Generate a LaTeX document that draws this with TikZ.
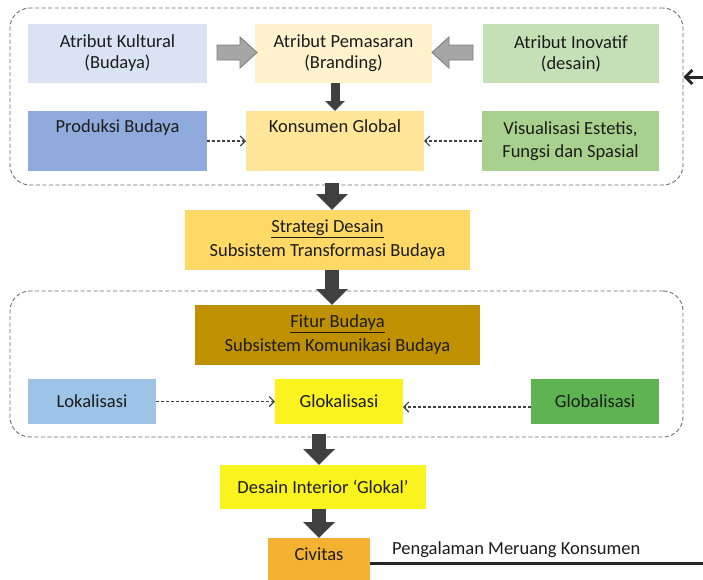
\documentclass[tikz,border=0pt]{standalone}
\usepackage{fontspec}
\setmainfont{Carlito}
\usetikzlibrary{arrows.meta,calc}
\definecolor{txt}{HTML}{1C1C1C}
\definecolor{cKult}{HTML}{DAE3F3}
\definecolor{cPem}{HTML}{FFF2CC}
\definecolor{cInov}{HTML}{C5E0B4}
\definecolor{cProd}{HTML}{8FAADC}
\definecolor{cKons}{HTML}{FFE699}
\definecolor{cVis}{HTML}{A9D18E}
\definecolor{cStrat}{HTML}{FFD966}
\definecolor{cFitur}{HTML}{BF9000}
\definecolor{cLok}{HTML}{9DC3E6}
\definecolor{cGlok}{HTML}{FAF31E}
\definecolor{cGlob}{HTML}{5EB450}
\definecolor{cCiv}{HTML}{F4B233}
\definecolor{darkarrow}{HTML}{404040}
\definecolor{grayfill}{HTML}{A6A6A6}
\definecolor{grayline}{HTML}{7F7F7F}
\definecolor{dashgray}{HTML}{6E6E6E}
\begin{document}
\begin{tikzpicture}[x=1pt,y=-1pt,
  box/.style={inner sep=0pt, outer sep=0pt, text=txt, align=center,
    font=\fontsize{18.5}{21}\selectfont},
  group/.style={draw=dashgray, line width=0.9pt, dash pattern=on 4pt off 2.5pt,
    rounded corners=20pt, inner sep=0pt},
  bigarrow/.style={draw=darkarrow, line width=14pt,
    -{Triangle[width=31pt,length=16pt]}},
  smallarrow/.style={draw=darkarrow, line width=9pt,
    -{Triangle[width=19pt,length=10pt]}},
  grayblk/.style={fill=grayfill, draw=grayline, line width=0.9pt},
  dasharrow/.style={draw=darkarrow, line width=1.1pt, dash pattern=on 3pt off 2pt,
    -{Straight Barb[length=5pt,width=10pt]}},
  retline/.style={draw=black!85, line width=3pt,
    -{Straight Barb[length=7pt,width=14pt,line width=2.8pt]}},
]
\useasboundingbox (0,0) rectangle (703,579);
\clip (0,0) rectangle (703,579);
\fill[white] (0,0) rectangle (703,579);

% dashed groups
\node[group, minimum width=673pt, minimum height=177pt] (grpA) at (346.5,96.5) {};
\node[group, minimum width=673pt, minimum height=146pt] (grpB) at (346.5,364) {};

% upper group
\node[box, fill=cKult, minimum width=179pt, minimum height=59pt] (kult) at (117.5,53.5) {Atribut Kultural\\(Budaya)};
\node[box, fill=cPem, minimum width=177pt, minimum height=59pt] (pem) at (343.5,53.5) {Atribut Pemasaran\\(Branding)};
\node[box, fill=cInov, minimum width=176pt, minimum height=59pt] (inov) at (571,53.5) {Atribut Inovatif\\(desain)};
\node[box, fill=cProd, minimum width=179pt, minimum height=60pt, font=\fontsize{18.5}{23}\selectfont] (prod) at (117.5,141) {Produksi Budaya\\\strut};
\node[box, fill=cKons, minimum width=178pt, minimum height=60pt, font=\fontsize{18.5}{23}\selectfont] (kons) at (335,141) {Konsumen Global\\\strut};
\node[box, fill=cVis, minimum width=177pt, minimum height=60pt, font=\fontsize{18.5}{23}\selectfont] (vis) at (570.5,141) {Visualisasi Estetis,\\Fungsi dan Spasial};

% middle
\node[box, fill=cStrat, minimum width=285pt, minimum height=60pt, font=\fontsize{18.5}{24}\selectfont] (strat) at (327.5,240) {\underline{Strategi Desain}\\Subsistem Transformasi Budaya};

% lower group
\node[box, fill=cFitur, minimum width=285pt, minimum height=60pt, font=\fontsize{18.5}{24}\selectfont] (fitur) at (337.5,335) {\underline{Fitur Budaya}\\Subsistem Komunikasi Budaya};
\node[box, fill=cLok, minimum width=128pt, minimum height=45pt] (lok) at (92,401.5) {Lokalisasi};
\node[box, fill=cGlok, minimum width=128pt, minimum height=45pt] (glok) at (339,401.5) {Glokalisasi};
\node[box, fill=cGlob, minimum width=128pt, minimum height=45pt] (glob) at (595,401.5) {Globalisasi};

% bottom
\node[box, fill=cGlok, minimum width=206pt, minimum height=44pt] (desain) at (323,487) {Desain Interior `Glokal'};
\node[box, fill=cCiv, minimum width=102pt, minimum height=62pt, font=\fontsize{18.5}{23}\selectfont] (civ) at (319,569) {Civitas\\\strut};

% grey block arrows into the branding box
\coordinate (gA1) at ($(kult.east)+(10,-1)$);
\coordinate (gA2) at ($(pem.west)+(2,-1)$);
\draw[grayblk] ($(gA1)+(0,-7.5)$) -- ($(gA2)+(-17,-7.5)$) -- ($(gA2)+(-17,-15.5)$) -- (gA2)
  -- ($(gA2)+(-17,15.5)$) -- ($(gA2)+(-17,7.5)$) -- ($(gA1)+(0,7.5)$) -- cycle;
\coordinate (gB1) at ($(inov.west)+(-10,-1)$);
\coordinate (gB2) at ($(pem.east)+(0,-1)$);
\draw[grayblk] ($(gB1)+(0,-7.5)$) -- ($(gB2)+(17,-7.5)$) -- ($(gB2)+(17,-15.5)$) -- (gB2)
  -- ($(gB2)+(17,15.5)$) -- ($(gB2)+(17,7.5)$) -- ($(gB1)+(0,7.5)$) -- cycle;

% dark flow arrows
\coordinate (axA) at (335,0);
\coordinate (axB) at (332,0);
\coordinate (axC) at (319,0);
\draw[smallarrow] (pem.south -| axA) -- (kons.north -| axA);
\draw[bigarrow] ($(grpA.south -| axB)+(0,-2)$) -- (strat.north -| axB);
\draw[bigarrow] (strat.south -| axB) -- (fitur.north -| axB);
\draw[bigarrow] ($(grpB.south -| axC)+(0,-3)$) -- (desain.north -| axC);
\draw[bigarrow] (desain.south -| axC) -- (civ.north -| axC);

% dashed influence arrows
\draw[dasharrow] (prod.east) -- (kons.west);
\draw[dasharrow] (vis.west) -- (kons.east);
\draw[dasharrow] (lok.east) -- (glok.west);
\coordinate (gy) at (0,407);
\draw[dasharrow] (glob.west |- gy) -- (glok.east |- gy);

% feedback line from the users back to the upper group
\coordinate (lineY) at (0,563);
\coordinate (retY) at (0,77);
\coordinate (retX) at (712,0);
\draw[retline] (civ.east |- lineY) -| (retX |- retY) -- (grpA.east |- retY);
\node[text=txt, font=\fontsize{18.5}{21}\selectfont, anchor=base west, inner sep=0pt] (pmk) at (392,554) {Pengalaman Meruang Konsumen};
\end{tikzpicture}
\end{document}
